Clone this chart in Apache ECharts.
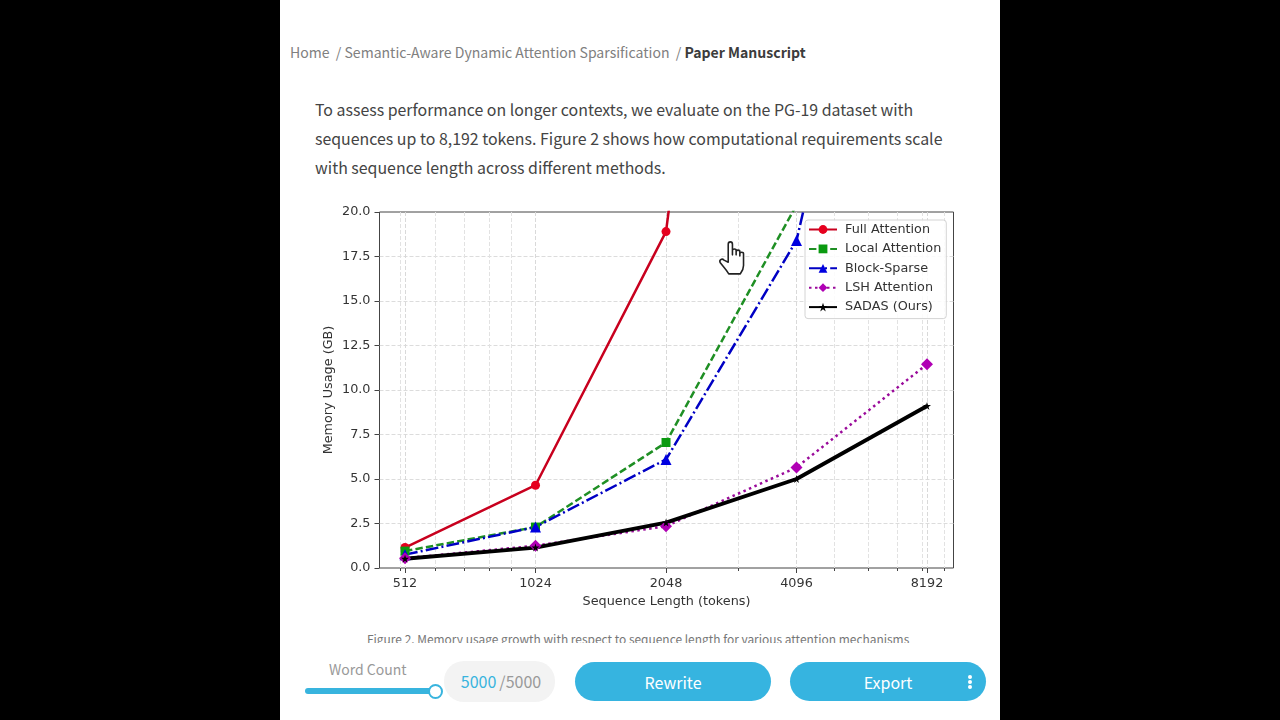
<!DOCTYPE html>
<html>
<head>
<meta charset="utf-8">
<title>Memory usage vs sequence length</title>
<script src="https://cdn.jsdelivr.net/npm/echarts@6/dist/echarts.min.js"></script>
<style>
  html, body { margin: 0; width: 1280px; height: 720px; overflow: hidden; background: #000; }
  #page { position: absolute; left: 280px; top: 0; width: 720px; height: 720px; background: #fff; overflow: hidden;
          font-family: "Noto Sans CJK SC", "Noto Sans", sans-serif; }
  #page > div, #page > svg { position: absolute; white-space: nowrap; }
  #crumbs { left: 10px; top: 41px; font-size: 14.05px; line-height: 22px; color: #808080; }
  #crumbs b { color: #3c3c3c; font-weight: 600; }
  #intro { left: 35px; top: 95px; font-size: 15.92px; line-height: 29px; color: #444; }
  #chart { left: 20px; top: 190px; width: 690px; height: 430px; }
  #captionClip { left: 0; top: 628px; width: 720px; height: 15px; overflow: hidden; }
  #captionClip span { position: absolute; left: 87px; top: 2px; font-size: 11.95px; line-height: 17px; color: #777; }
  #wc { left: 49px; top: 659px; font-size: 14px; line-height: 20px; color: #999; }
  #track { left: 25px; top: 688px; width: 130px; height: 6px; border-radius: 3px; background: #38b4de; }
  #thumb { left: 148px; top: 684px; width: 11px; height: 11px; border-radius: 50%; background: #fff; border: 2px solid #38b4de; }
  #pill { left: 164px; top: 661px; width: 108px; padding-left: 3px; height: 41px; border-radius: 20px; background: #f3f3f3;
          text-align: center; line-height: 41px; font-size: 16px; color: #999; }
  #pill span { color: #38b4de; margin-right: 3px; }
  .btn { top: 662px; height: 39px; border-radius: 20px; background: #36b4e0; color: #fff; text-align: center;
         line-height: 40px; font-size: 16px; }
  #rewrite { left: 295px; width: 196px; }
  #export { left: 510px; width: 196px; }
  .dot { left: 688px; width: 4px; height: 4px; border-radius: 2px; background: #fff; }
</style>
</head>
<body>
<div id="page">
  <div id="crumbs">Home&nbsp; /&nbsp;Semantic-Aware Dynamic Attention Sparsification&nbsp; /&nbsp;<b>Paper Manuscript</b></div>
  <div id="intro">To assess performance on longer contexts, we evaluate on the PG-19 dataset with<br>sequences up to 8,192 tokens. Figure 2 shows how computational requirements scale<br>with sequence length across different methods.</div>
  <div id="chart"></div>
  <div id="captionClip"><span>Figure 2. Memory usage growth with respect to sequence length for various attention mechanisms</span></div>
  <div id="wc">Word Count</div>
  <div id="track"></div>
  <div id="thumb"></div>
  <div id="pill"><span>5000</span>/5000</div>
  <div id="rewrite" class="btn">Rewrite</div>
  <div id="export" class="btn">Export</div>
  <div class="dot" style="top:675px"></div>
  <div class="dot" style="top:680px"></div>
  <div class="dot" style="top:685px"></div>
  <svg style="left:437px;top:239px" width="33" height="38" viewBox="0 0 30 36">
    <path d="M10 22 L10 5 C10 2 14 2 14 5 L14 15 L14 11 C14 9 17.5 9 17.5 11 L17.5 15 L17.5 12 C17.5 10 21 10 21 12 L21 16 L21 14 C21 12 24.5 12 24.5 14 L24.5 25 C24.5 29 23 31 21.5 33 L10.5 33 C8 29 5 26 2.5 22.5 C1 20 4 18 6 20 Z"
          fill="#fff" stroke="#222" stroke-width="1.5" stroke-linejoin="round"/>
  </svg>
</div>
<script>
// Sequence lengths on the log-2 axis
const seqLengths = [512, 1024, 2048, 4096, 8192];
const minorTickValues = [500, 600, 700, 800, 900, 3000, 5000, 6000, 7000, 8000, 9000];
const yTickLabels = ['0.0', '2.5', '5.0', '7.5', '10.0', '12.5', '15.0', '17.5', '20.0'];

// Memory usage in GB
const fullAttention = [1.15, 4.65, 18.9, 75, 300];
const localAttention = [0.95, 2.3, 7.05, 20.4, 65];
const blockSparse = [0.75, 2.3, 6.1, 18.4, 50];
const lshAttention = [0.55, 1.25, 2.35, 5.65, 11.45];
const sadas = [0.52, 1.15, 2.55, 5.0, 9.1];

const chartFont = '"DejaVu Sans", sans-serif';
const ink = '#333';
const chartFontSize = 12.8;

function makeSeries(name, values, color, markerColor, symbol, size, width, dash) {
  return {
    name, type: 'line', xAxisIndex: 0,
    data: seqLengths.map((len, i) => [len, values[i]]),
    symbol, symbolSize: size, clip: true, smooth: false,
    showSymbol: true,
    itemStyle: { color: markerColor, borderWidth: 0 },
    lineStyle: { color, width, type: dash, cap: 'butt' },
    emphasis: { disabled: true }, animation: false
  };
}

const starSymbol = 'path://M50 0 L62 36 L100 36 L69 58 L81 95 L50 72 L19 95 L31 58 L0 36 L38 36 Z';

const chart = echarts.init(document.getElementById('chart'), null, { renderer: 'canvas' });
const xBase = {
  type: 'log', logBase: 2, min: 447.1, max: 9430, position: 'bottom',
  axisLine: { show: false }
};
chart.setOption({
  animation: false,
  grid: { left: 79.5, right: 36.5, top: 22, bottom: 52, show: true, borderColor: '#444', borderWidth: 1, backgroundColor: '#fff' },
  xAxis: [
    Object.assign({}, xBase, {
      name: 'Sequence Length (tokens)', nameLocation: 'middle', nameGap: 27,
      nameTextStyle: { fontFamily: chartFont, fontSize: chartFontSize, color: ink },
      axisTick: { show: true, length: 5, customValues: seqLengths, lineStyle: { color: '#444' } },
      axisLabel: { show: true, customValues: seqLengths, margin: 9, fontFamily: chartFont, fontSize: chartFontSize, color: ink,
                   formatter: v => String(Math.round(v)) },
      splitLine: { show: true, lineStyle: { color: '#d9d9d9', type: [4, 2], width: 1 } }
    }),
    Object.assign({}, xBase, {
      axisTick: { show: true, length: 3, customValues: minorTickValues, lineStyle: { color: '#444' } },
      axisLabel: { show: false },
      splitLine: { show: true, lineStyle: { color: '#e2e2e2', type: [4, 2], width: 1 } }
    })
  ],
  yAxis: {
    type: 'value', min: 0, max: 20, interval: 2.5,
    name: 'Memory Usage (GB)', nameLocation: 'middle', nameGap: 44, nameMoveOverlap: false,
    nameTextStyle: { fontFamily: chartFont, fontSize: chartFontSize, color: ink },
    axisLine: { show: false },
    axisTick: { show: true, length: 5, lineStyle: { color: '#444' } },
    axisLabel: { margin: 9, fontFamily: chartFont, fontSize: chartFontSize, color: ink,
                 formatter: v => yTickLabels[Math.round(v / 2.5)] },
    splitLine: { show: true, showMinLine: false, showMaxLine: false, lineStyle: { color: '#dcdcdc', type: [4, 2], width: 1 } }
  },
  legend: {
    orient: 'vertical', left: 505, top: 30, padding: [3, 5, 5, 3], itemGap: 6.4, itemWidth: 28, itemHeight: 11,
    backgroundColor: 'rgba(255,255,255,0.85)', borderColor: '#d4d4d4', borderWidth: 1, borderRadius: 3,
    textStyle: { fontFamily: chartFont, fontSize: chartFontSize, color: ink, padding: [0, 0, 0, 3] },
    selectedMode: false
  },
  series: [
    makeSeries('Full Attention', fullAttention, '#c8001e', '#e6001e', 'circle', 9, 2.5, 'solid'),
    makeSeries('Local Attention', localAttention, '#1f8f24', '#0a9a10', 'rect', 9, 2.5, [7.4, 3.2]),
    makeSeries('Block-Sparse', blockSparse, '#0000c4', '#0000e0', 'triangle', 11, 2.5, [12.8, 3.2, 2, 3.2]),
    makeSeries('LSH Attention', lshAttention, '#9a0a9a', '#b000b4', 'diamond', 12, 2.5, [2.5, 3.5]),
    makeSeries('SADAS (Ours)', sadas, '#000', '#000', starSymbol, 8, 3.8, 'solid')
  ]
});
</script>
</body>
</html>
